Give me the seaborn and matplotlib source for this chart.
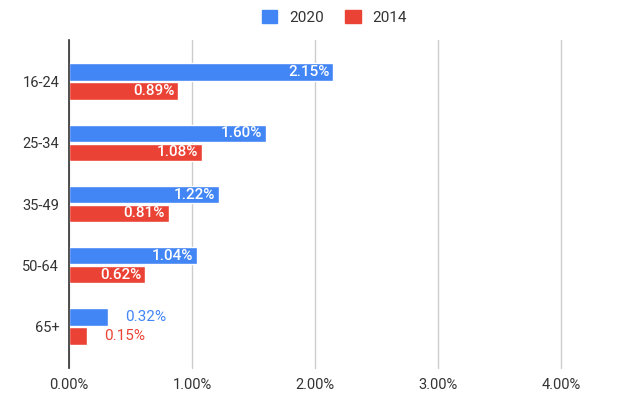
import pandas as pd
import matplotlib.pyplot as plt
import seaborn as sns

sns.set_style('white')
plt.rcParams['font.family'] = ['Roboto', 'DejaVu Sans']

ages = ['16-24', '25-34', '35-49', '50-64', '65+']
share_2020 = [2.15, 1.60, 1.22, 1.04, 0.32]
share_2014 = [0.89, 1.08, 0.81, 0.62, 0.15]
years = ['2020', '2014']
colors = {'2020': '#4285F4', '2014': '#EA4335'}

df = pd.DataFrame({
    'age': ages * 2,
    'share': share_2020 + share_2014,
    'year': ['2020'] * len(ages) + ['2014'] * len(ages),
})

fig = plt.figure(figsize=(6.37, 3.97), dpi=100)
ax = fig.add_axes([69 / 637, 1 - 368 / 397, (561 - 69) / 637, (368 - 40) / 397])

sns.barplot(data=df, y='age', x='share', hue='year', hue_order=years,
            palette=colors, orient='h', width=0.62, gap=0.08,
            saturation=1, ax=ax, legend=False)

ax.set_xlim(0, 4)
ax.set_ylim(4.68, -0.68)
ax.set_xticks([0, 1, 2, 3, 4])
ax.set_xticklabels([f'{v:.2f}%' for v in range(5)])
ax.grid(axis='x', color='#cccccc', linewidth=1)
for gl in ax.xaxis.get_gridlines():
    gl.set_clip_on(False)
ax.set_axisbelow(True)
for s in ['top', 'right', 'bottom']:
    ax.spines[s].set_visible(False)
ax.spines['left'].set_color('#333333')
ax.spines['left'].set_linewidth(1.2)
ax.spines['left'].set_zorder(5)
ax.tick_params(axis='both', length=0, labelsize=10.5, colors='#333333', pad=7)
ax.set_xlabel('')
ax.set_ylabel('')

# value labels: inside the bar if wide enough, else just outside
for cont, year in zip(ax.containers, years):
    for bar in cont:
        w = bar.get_width()
        y = bar.get_y() + bar.get_height() / 2
        txt = f'{w:.2f}%'
        if w > 0.5:
            ax.annotate(txt, (w, y), xytext=(-3, 0), textcoords='offset points',
                        ha='right', va='center', color='white', fontsize=11,
                        fontweight='medium')
        else:
            ax.annotate(txt, (w, y), xytext=(12, 0), textcoords='offset points',
                        ha='left', va='center', color=colors[year], fontsize=11)

handles = [plt.Rectangle((0, 0), 1, 1, color=colors[y]) for y in years]
fig.legend(handles, years, loc='upper center', bbox_to_anchor=(0.525, 1.01),
           ncol=2, frameon=False, fontsize=11, handlelength=1.0, handleheight=1.0,
           columnspacing=1.4, handletextpad=0.8, labelcolor='#333333')

fig.savefig('out.png', dpi=100)
